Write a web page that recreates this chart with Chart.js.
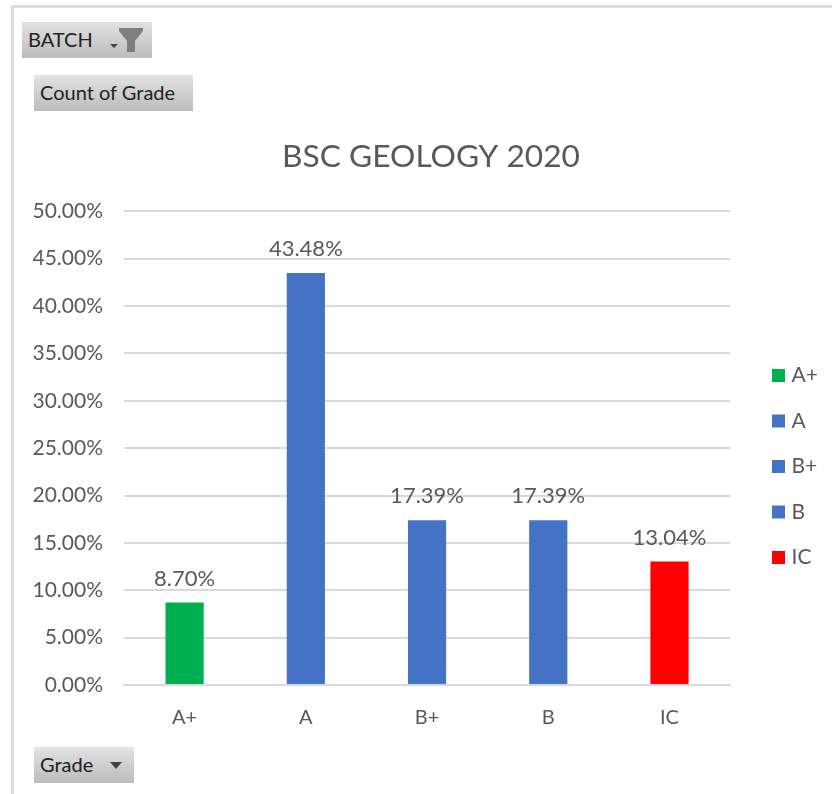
<!DOCTYPE html>
<html>
<head>
<meta charset="utf-8">
<title>BSC GEOLOGY 2020</title>
<script src="https://cdn.jsdelivr.net/npm/chart.js@4/dist/chart.umd.min.js"></script>
<style>
    html, body { margin: 0; padding: 0; background: #fff; overflow: hidden; }
    #page { position: relative; width: 832px; height: 794px; font-family: Lato, sans-serif; }
    #wheel-frame { position: absolute; left: 11px; top: 5px; right: 0; bottom: 0; border-left: 3px solid #dcdcdc; border-top: 3px solid #dcdcdc; }
    #chart { position: absolute; left: 0; top: 0; }
    .field-btn {
        position: absolute; height: 36px; line-height: 35px; padding-left: 6px; box-sizing: border-box;
        background: linear-gradient(#e2e2e2, #bcbcbc); color: #222; font-size: 20px;
    }
    .field-btn svg { position: absolute; }
</style>
</head>
<body>
<div id="page">
    <div id="wheel-frame"></div>
    <canvas id="chart" width="832" height="794"></canvas>
    <div class="field-btn" style="left:22px;top:22px;width:130px">BATCH
        <svg style="left:87px;top:5px" width="38" height="28" viewBox="0 0 38 28">
            <path d="M1 17h8l-4 4z" fill="#444"/>
            <path d="M10 1h24v3l-8 10v11h-8v-11l-8-10z" fill="#7f7f7f"/>
        </svg>
    </div>
    <div class="field-btn" style="left:34px;top:75px;width:159px">Count of Grade</div>
    <div class="field-btn" style="left:34px;top:747px;width:100px">Grade
        <svg style="left:76px;top:15px" width="12" height="7" viewBox="0 0 12 7">
            <path d="M0 0h12l-6 7z" fill="#444"/>
        </svg>
    </div>
</div>
<script>
const grades = ["A+", "A", "B+", "B", "IC"];
const shares = [8.70, 43.48, 17.39, 17.39, 13.04];
const barColors = ["#00b050", "#4472c4", "#4472c4", "#4472c4", "#ff0000"];
const chartTitle = "BSC GEOLOGY 2020";

const greyText = "#595959";

// percentages above the bars
const valueLabels = {
    id: "valueLabels",
    afterDatasetsDraw(chart) {
        const ctx = chart.ctx;
        ctx.save();
        ctx.font = "22px Lato";
        ctx.fillStyle = greyText;
        ctx.textAlign = "center";
        ctx.textBaseline = "bottom";
        chart.getDatasetMeta(0).data.forEach((bar, i) => {
            ctx.fillText(shares[i].toFixed(2) + "%", bar.x, bar.y - 13);
        });
        ctx.restore();
    }
};

// the legend and title sit a bit off from where the layout puts them
const nudgeBoxes = {
    id: "nudgeBoxes",
    afterLayout(chart) {
        const legend = chart.legend;
        const dx = 776 - (legend.left + legend.options.labels.padding);
        legend.left += dx;
        legend.right += dx;
        legend.top += 22;
        legend.bottom += 22;
        chart.titleBlock.left += 4;
        chart.titleBlock.right += 4;
    }
};

new Chart(document.getElementById("chart"), {
    type: "bar",
    plugins: [valueLabels, nudgeBoxes],
    data: {
        labels: grades,
        datasets: [{
            data: shares,
            backgroundColor: barColors,
            barPercentage: 0.315,
            categoryPercentage: 1
        }]
    },
    options: {
        responsive: false,
        animation: { duration: 0 },
        layout: { padding: { top: 138, left: 0, right: 25.5, bottom: 43 } },
        plugins: {
            tooltip: { enabled: false },
            title: {
                display: true,
                text: chartTitle,
                color: greyText,
                font: { family: "Lato", size: 31.7, weight: "normal" },
                padding: { top: 0, bottom: 35.3 },
                fullSize: false
            },
            legend: {
                position: "right",
                labels: {
                    usePointStyle: true,
                    boxWidth: 5,
                    boxHeight: 13,
                    padding: 24.5,
                    color: greyText,
                    font: { family: "Lato", size: 21 },
                    generateLabels: () => grades.map((g, i) => ({
                        text: g,
                        fillStyle: barColors[i],
                        strokeStyle: barColors[i],
                        lineWidth: 0,
                        pointStyle: "rect",
                        fontColor: greyText,
                        index: i
                    }))
                }
            }
        },
        scales: {
            x: {
                grid: { display: false, drawTicks: false },
                border: { color: "#d9d9d9", width: 2 },
                ticks: { color: greyText, font: { family: "Lato", size: 20 }, padding: 21, maxRotation: 0 }
            },
            y: {
                min: 0,
                max: 50,
                afterFit: (scale) => { scale.width = 124; },
                grid: { color: "#d9d9d9", lineWidth: 2, drawTicks: false },
                border: { display: false },
                ticks: {
                    stepSize: 5,
                    color: greyText,
                    font: { family: "Lato", size: 21 },
                    padding: 21,
                    callback: (v) => v.toFixed(2) + "%"
                }
            }
        }
    }
});
</script>
</body>
</html>
